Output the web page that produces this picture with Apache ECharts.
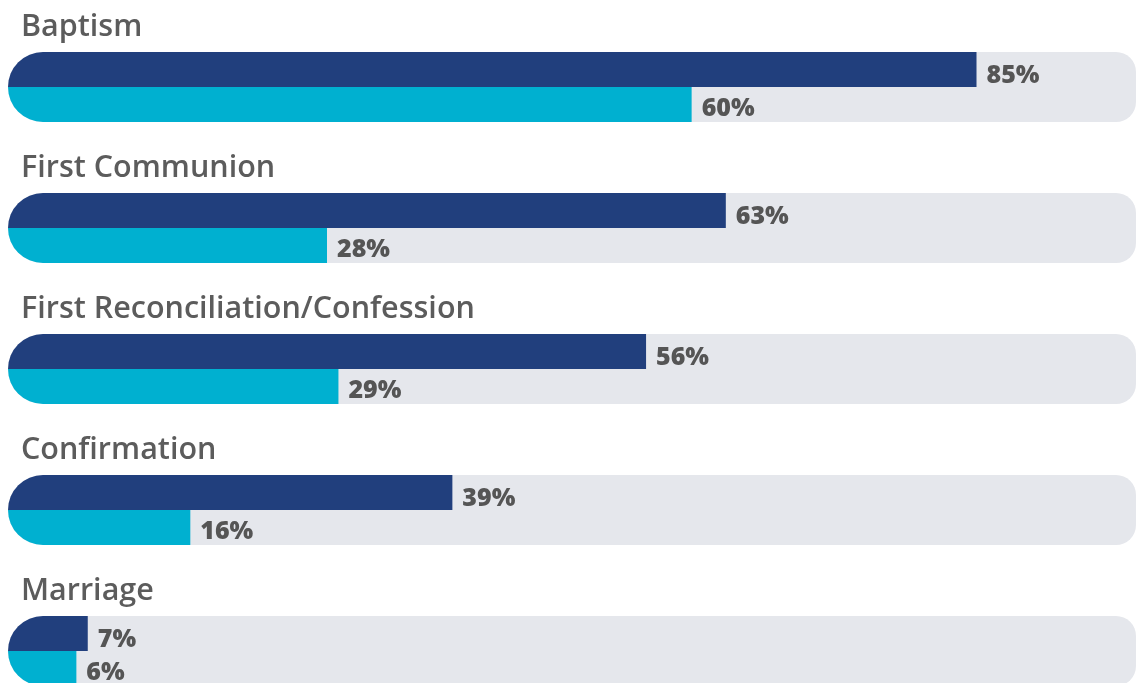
<!DOCTYPE html>
<html>
<head>
<meta charset="utf-8">
<script src="https://cdn.jsdelivr.net/npm/echarts@6/dist/echarts.min.js"></script>
<style>html,body{margin:0;padding:0;background:#fff}#c{width:1136px;height:683px}</style>
</head>
<body>
<div id="c"></div>
<script>
const categories = ['Baptism', 'First Communion', 'First Reconciliation/Confession', 'Confirmation', 'Marriage'];
const navyValues = [85, 63, 56, 39, 7];
const cyanValues = [60, 28, 29, 16, 6];
const trackMax = 99;

const NAVY = '#213f7d', CYAN = '#00b0d0', TRACK = '#e5e7ec';
const FONT = '"Open Sans", Lato, sans-serif';

const data = categories.map((c, i) => [i, navyValues[i], cyanValues[i]]);

const chart = echarts.init(document.getElementById('c'), null, {renderer: 'canvas'});
chart.setOption({
  animation: false,
  grid: {left: 8, right: 0, top: 16.5, bottom: 0},
  xAxis: {type: 'value', min: 0, max: trackMax, show: false},
  yAxis: {type: 'value', min: -0.5, max: 4.227, inverse: true, show: false},
  series: [{
    type: 'custom',
    data: data,
    encode: {y: 0, x: [1, 2]},
    renderItem: function (params, api) {
      const cat = api.value(0);
      const c0 = api.coord([0, cat]);
      const yc = c0[1];
      const xe = api.coord([trackMax, cat])[0];
      const xn = api.coord([api.value(1), cat])[0];
      const xc = api.coord([api.value(2), cat])[0];
      const h = 35;
      return {
        type: 'group',
        children: [
          {type: 'rect', shape: {x: c0[0], y: yc - h, width: xe - c0[0], height: 2 * h, r: [h, 20, 20, h]}, style: {fill: TRACK}},
          {type: 'rect', shape: {x: c0[0], y: yc - h, width: xn - c0[0], height: h, r: [h, 0, 0, 0]}, style: {fill: NAVY}},
          {type: 'rect', shape: {x: c0[0], y: yc, width: xc - c0[0], height: h, r: [0, 0, 0, h]}, style: {fill: CYAN}},
          {type: 'text', style: {x: 21, y: yc - 60, text: categories[cat], fill: '#5c5c5c', font: '600 30.5px ' + FONT, verticalAlign: 'middle', align: 'left'}},
          {type: 'text', style: {x: xn + 10, y: yc - 11, text: api.value(1) + '%', fill: '#555555', font: '800 25px ' + FONT, verticalAlign: 'middle', align: 'left'}},
          {type: 'text', style: {x: xc + 10, y: yc + 21.5, text: api.value(2) + '%', fill: '#555555', font: '800 25px ' + FONT, verticalAlign: 'middle', align: 'left'}}
        ]
      };
    }
  }]
});
</script>
</body>
</html>
